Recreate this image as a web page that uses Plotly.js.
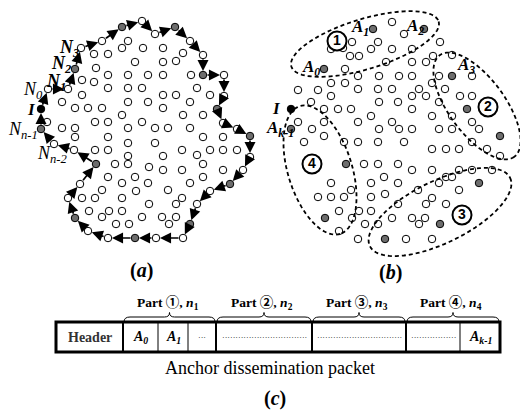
<!DOCTYPE html>
<html><head><meta charset="utf-8">
<script src="https://cdn.plot.ly/plotly-3.0.1.min.js"></script>
<style>body{margin:0;background:#fff}</style></head>
<body><div id="chart" style="width:520px;height:411px"></div>
<script>
// ---------- panel (a): boundary walk ----------
const boundaryAX = [48,68,75,81,102,122,142,155,175,190,203,203,224,224,217,223,237,250,250,243,230,210,197,190,183,156,135,108,88,75,68,80,96,74,54,41,41];
const boundaryAY = [89,89,69,48,41,27,21,34,27,41,55,75,75,96,109,123,129,136,157,170,184,191,204,224,238,238,238,238,231,218,198,184,164,150,144,129,109];
const boundaryAKind = ['o','o','g','o','o','g','o','o','g','o','o','g','o','o','g','o','o','g','o','o','g','o','o','g','o','o','g','o','o','g','o','o','g','o','o','g','b'];
// interior nodes of (a)
const innerAX = [128,122,143,163,94,108,183,135,163,176,96,82,94,108,128,148,163,191,108,128,142,197,62,82,163,176,210,75,88,102,128,148,163,190,122,183,203,47,95,108,142,62,75,128,155,168,190,75,108,203,223,128,155,95,108,182,210,223,237,128,163,197,115,128,149,203,163,182,223,108,135,122,148,190,102,168,136,82,95,122,182,149,176,89,109,122,102,142,162,176,116,129,169,203];
const innerAY = [41,48,48,48,54,54,53,62,62,61,68,80,82,75,75,75,75,75,88,88,88,88,102,95,95,95,95,108,108,108,102,102,108,102,115,115,115,122,122,122,122,128,128,128,128,128,128,137,137,137,137,143,143,150,150,150,150,150,150,156,156,155,164,164,167,164,170,170,170,177,177,183,183,183,190,190,191,198,198,198,198,204,204,211,211,211,217,217,217,217,224,224,224,177];

// ---------- panel (b) ----------
const openBX = [392,404,352,331,343,378,371,392,412,440,350,359,386,412,426,433,452,345,358,379,399,412,439,472,298,318,331,345,358,378,392,419,432,445,460,472,331,412,426,311,324,338,351,398,412,379,439,452,371,432,298,324,312,358,392,412,399,379,439,452,472,479,304,324,344,358,378,404,432,446,459,472,487,500,364,378,398,412,432,446,459,472,492,331,371,384,398,418,439,452,459,318,331,344,351,371,385,339,359,371,352,365,378,392,398,426,432,446,412,419,425,339,358,406,432];
const openBY = [22,34,42,49,48,42,49,49,49,42,56,56,62,62,62,56,55,69,76,76,76,76,76,76,90,90,83,83,89,89,89,89,83,89,96,96,96,96,96,102,109,109,109,102,109,102,102,116,116,116,122,122,129,122,122,129,129,129,129,129,122,129,142,136,142,142,142,142,149,149,149,142,149,156,164,164,164,170,170,177,170,170,170,183,183,177,183,190,183,177,190,197,197,197,190,197,194,211,211,211,218,224,224,218,204,204,198,204,218,224,218,231,239,239,239];
const grayBX = [373,424,324,452,467,291,500,346,479,325,440,385];
const grayBY = [29,29,69,76,109,129,136,164,183,218,224,239];
const initBX = [291];
const initBY = [109];
// regions: centre x, centre y, semi-major, semi-minor, angle (deg)
const regionLabels = ['1','2','3','4'];
const regionCX = [365,477,440,320];
const regionCY = [44,106,212,170];
const regionA = [77,63,78,67];
const regionB = [25,28,31,32];
const regionAng = [-17,53.7,-26,72.6];
const regionTagX = [337,488,462,312];
const regionTagY = [41,107,215,164];

// ---------- panel (c): packet ----------
const cellEdges = [56,123,158,188,216,312,406,460,500];
const cellTexts = ['<b>Header</b>','<b><i>A</i></b><sub><b><i>0</i></b></sub>','<b><i>A</i></b><sub><b><i>1</i></b></sub>','···','································','································','·················','<b><i>A</i></b><sub><b><i>k-1</i></b></sub>'];
const partEdges = [123,216,312,406,500];
const partNames = ['Part \u2460, <i>n</i><sub>1</sub>','Part \u2461, <i>n</i><sub>2</sub>','Part \u2462, <i>n</i><sub>3</sub>','Part \u2463, <i>n</i><sub>4</sub>'];

const SERIF = 'Liberation Serif, Times New Roman, Noto Sans CJK SC, serif';
const traces = [];
const shapes = [];
const ann = [];

function nodeTrace(xs, ys, fill, size) {
  return {type:'scatter', mode:'markers', x:xs, y:ys, hoverinfo:'skip',
    marker:{symbol:'circle', size:size||7.5, color:fill, line:{color:'#000', width:1}}};
}

// (a) boundary arrows
for (let i = 0; i < boundaryAX.length; i++) {
  const j = (i + 1) % boundaryAX.length;
  ann.push({x:boundaryAX[j], y:boundaryAY[j], ax:boundaryAX[i], ay:boundaryAY[i],
    xref:'x', yref:'y', axref:'x', ayref:'y', text:'', showarrow:true,
    arrowhead:2, arrowsize:1.3, arrowwidth:1.7, arrowcolor:'#000', standoff:4, startstandoff:3});
}
traces.push(nodeTrace(innerAX, innerAY, '#fff'));
const bo = {x:[],y:[]}, bg = {x:[],y:[]}, bb = {x:[],y:[]};
boundaryAKind.forEach((k,i)=>{ const t = k==='o'?bo:(k==='g'?bg:bb); t.x.push(boundaryAX[i]); t.y.push(boundaryAY[i]); });
traces.push(nodeTrace(bo.x, bo.y, '#fff'));
traces.push(nodeTrace(bg.x, bg.y, '#6d6d6d'));
traces.push(nodeTrace(bb.x, bb.y, '#000'));

// (b) nodes
traces.push(nodeTrace(openBX, openBY, '#fff'));
traces.push(nodeTrace(grayBX, grayBY, '#6d6d6d'));
traces.push(nodeTrace(initBX, initBY, '#000'));

// (b) dashed regions
function ellipsePath(cx, cy, a, b, deg) {
  const t = deg * Math.PI / 180, c = Math.cos(t), s = Math.sin(t);
  let p = '';
  for (let k = 0; k <= 96; k++) {
    const u = 2 * Math.PI * k / 96;
    const ex = a * Math.cos(u), ey = b * Math.sin(u);
    const x = cx + ex * c - ey * s, y = cy + ex * s + ey * c;
    p += (k === 0 ? 'M' : 'L') + x.toFixed(2) + ',' + y.toFixed(2);
  }
  return p + 'Z';
}
regionCX.forEach((cx,i)=>{
  shapes.push({type:'path', xref:'x', yref:'y', path:ellipsePath(cx, regionCY[i], regionA[i], regionB[i], regionAng[i]),
    line:{color:'#000', width:1.8, dash:'4px,3px'}, fillcolor:'rgba(0,0,0,0)'});
});
// circled region tags
traces.push({type:'scatter', mode:'markers+text', x:regionTagX, y:regionTagY, text:regionLabels.map(s=>'<b>'+s+'</b>'),
  textposition:'middle center', textfont:{family:'Liberation Sans, Arial, sans-serif', size:14, color:'#000'}, hoverinfo:'skip',
  marker:{symbol:'circle', size:19, color:'#fff', line:{color:'#000', width:2}}});

// labels
function lab(x, y, html, size, anchor) {
  ann.push({x:x, y:y, xref:'x', yref:'y', text:html, showarrow:false, xanchor:anchor||'center', yanchor:'middle',
    font:{family:SERIF, size:size, color:'#000'}});
}
lab(81, 48, '<b><i>N</i></b><sub><b><i>3</i></b></sub>', 18, 'right');
lab(74, 64, '<b><i>N</i></b><sub><b><i>2</i></b></sub>', 18, 'right');
lab(68, 82, '<b><i>N</i></b><sub><b><i>1</i></b></sub>', 18, 'right');
lab(45, 90, '<i>N</i><sub><i>0</i></sub>', 18, 'right');
lab(31, 109, '<b><i>I</i></b>', 17, 'center');
lab(40, 130, '<i>N</i><sub><i>n-1</i></sub>', 18, 'right');
lab(35, 154, '<i>N</i><sub><i>n-2</i></sub>', 18, 'left');
lab(141, 270, '<b>(<i>a</i>)</b>', 20, 'center');
lab(371, 28, '<b><i>A</i></b><sub><b><i>1</i></b></sub>', 17, 'right');
lab(426, 27, '<b><i>A</i></b><sub><b><i>2</i></b></sub>', 17, 'right');
lab(322, 68, '<b><i>A</i></b><sub><b><i>0</i></b></sub>', 17, 'right');
lab(455, 66, '<b><i>A</i></b><sub><b><i>3</i></b></sub>', 17, 'left');
lab(276, 108, '<b><i>I</i></b>', 17, 'center');
lab(264, 129, '<b><i>A</i></b><sub><b><i>k-1</i></b></sub>', 17, 'left');
lab(390, 272, '<b>(<i>b</i>)</b>', 20, 'center');

// (c) packet
const yTop = 322, yBot = 352;
shapes.push({type:'rect', xref:'x', yref:'y', x0:cellEdges[0], x1:cellEdges[cellEdges.length-1], y0:yTop, y1:yBot,
  line:{color:'#000', width:3}, fillcolor:'rgba(0,0,0,0)'});
for (let i = 1; i < cellEdges.length - 1; i++) {
  const thick = partEdges.indexOf(cellEdges[i]) >= 0;
  shapes.push({type:'line', xref:'x', yref:'y', x0:cellEdges[i], x1:cellEdges[i], y0:yTop, y1:yBot,
    line:{color:'#000', width: thick ? 2 : 1}});
}
for (let i = 0; i < cellTexts.length; i++) {
  const cx = (cellEdges[i] + cellEdges[i+1]) / 2;
  ann.push({x:cx, y:337, xref:'x', yref:'y', text:cellTexts[i], showarrow:false, xanchor:'center', yanchor:'middle',
    font:{family:SERIF, size: i === 0 ? 14 : (cellTexts[i].indexOf('·')===0 ? 8 : 14), color: i === 0 ? '#333' : '#000'}});
}
for (let i = 0; i < partEdges.length - 1; i++) {
  const x1 = partEdges[i] + 1, x2 = partEdges[i+1] - 1, m = (partEdges[i] + partEdges[i+1]) / 2;
  const yb = 322, yl = 317, yt = 312.5;
  const p = `M${x1},${yb} Q${x1},${yl} ${x1+6},${yl} L${m-5},${yl} Q${m},${yl} ${m},${yt} Q${m},${yl} ${m+5},${yl} L${x2-6},${yl} Q${x2},${yl} ${x2},${yb}`;
  shapes.push({type:'path', xref:'x', yref:'y', path:p, line:{color:'#000', width:1}});
  ann.push({x:m - 2, y:303, xref:'x', yref:'y', text:'<b>'+partNames[i]+'</b>', showarrow:false, xanchor:'center', yanchor:'middle',
    font:{family:SERIF, size:13.5, color:'#000'}});
}
lab(270, 368, 'Anchor dissemination packet', 18, 'center');
lab(275, 398, '<b>(<i>c</i>)</b>', 20, 'center');

const layout = {width:520, height:411, margin:{l:0,r:0,t:0,b:0}, paper_bgcolor:'#fff', plot_bgcolor:'#fff',
  showlegend:false,
  xaxis:{range:[0,520], visible:false, fixedrange:true},
  yaxis:{range:[411,0], visible:false, fixedrange:true},
  shapes:shapes, annotations:ann};
Plotly.newPlot('chart', traces, layout, {staticPlot:true, displayModeBar:false});
</script></body></html>
